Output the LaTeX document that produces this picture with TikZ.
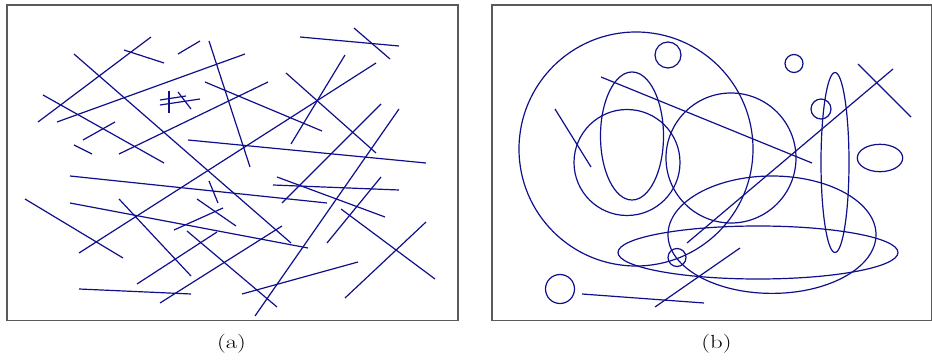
\documentclass[tikz,border=0pt]{standalone}
\usepackage{fontspec}
\setmainfont{Latin Modern Roman}
\definecolor{ink}{RGB}{15,15,140}
\definecolor{framec}{RGB}{90,90,90}
\begin{document}
\begin{tikzpicture}[x=1pt,y=-1pt,
  seg/.style={draw=ink,line width=1.2pt},
  panel/.style={draw=framec,line width=1.1pt},
  sublabel/.style={font=\fontsize{19}{22}\selectfont,anchor=base,inner sep=0pt,xscale=1.3}]
\useasboundingbox (0,0) rectangle (932,363);
% panel frames
\draw[panel] (7,5) rectangle (458,320.5);
\draw[panel] (492,5) rectangle (932,320.5);
\node[sublabel] (la) at (231.5,348.5) {(a)};
\node[sublabel] (lb) at (716.5,348.5) {(b)};
% panel (a): segments
\foreach \a/\b/\c/\d in {
151/37/38/122, 124/50/164/63, 178/54/200/41, 209/41/250/167,
74/54/291/243, 57/122/245/54, 43/95/164/163, 83/140/115/122,
74/145/92/154, 119/154/268/82, 205/82/322/131, 160/100/186/96,
160/105/200/99, 169/91/169/113, 178/92/191/109, 188/140/426/163,
79/253/376/63, 300/37/399/46, 354/28/390/59, 345/55/291/144,
286/73/376/153, 381/104/282/203, 399/109/255/316, 273/185/399/190,
277/177/385/217, 381/177/327/243, 70/176/327/203, 341/209/435/279,
426/222/345/298, 242/294/358/262, 187/231/277/307, 70/203/308/248,
197/199/236/226, 209/181/218/203, 174/230/223/208, 25/199/123/258,
119/199/191/276, 79/289/191/294, 137/284/217/232, 160/303/282/226}
  \draw[seg] (\a,\b) -- (\c,\d);
% panel (b): circles and ellipses
\draw[seg] (636,149) circle[x radius=117pt, y radius=117pt];
\draw[seg] (668,55) circle[x radius=13pt, y radius=13pt];
\draw[seg] (632,136) circle[x radius=31.5pt, y radius=64pt];
\draw[seg] (627,162.5) circle[x radius=53pt, y radius=53pt];
\draw[seg] (731,158) circle[x radius=65pt, y radius=65pt];
\draw[seg] (794,63.5) circle[x radius=9pt, y radius=9pt];
\draw[seg] (821,109) circle[x radius=10pt, y radius=10pt];
\draw[seg] (835,162.5) circle[x radius=14pt, y radius=90pt];
\draw[seg] (880,158) circle[x radius=22.7pt, y radius=13.7pt];
\draw[seg] (772,234.7) circle[x radius=104pt, y radius=58.7pt];
\draw[seg] (758,252.5) circle[x radius=140pt, y radius=26.5pt];
\draw[seg] (677,257.5) circle[x radius=9pt, y radius=9pt];
\draw[seg] (560,289) circle[x radius=14.5pt, y radius=14.5pt];
% panel (b): segments
\foreach \a/\b/\c/\d in {
601/77/812/163, 555/109/591/167, 858/64/911/117, 893/69/687/243,
582/294/704/303, 655/307/740/248}
  \draw[seg] (\a,\b) -- (\c,\d);
\end{tikzpicture}
\end{document}
